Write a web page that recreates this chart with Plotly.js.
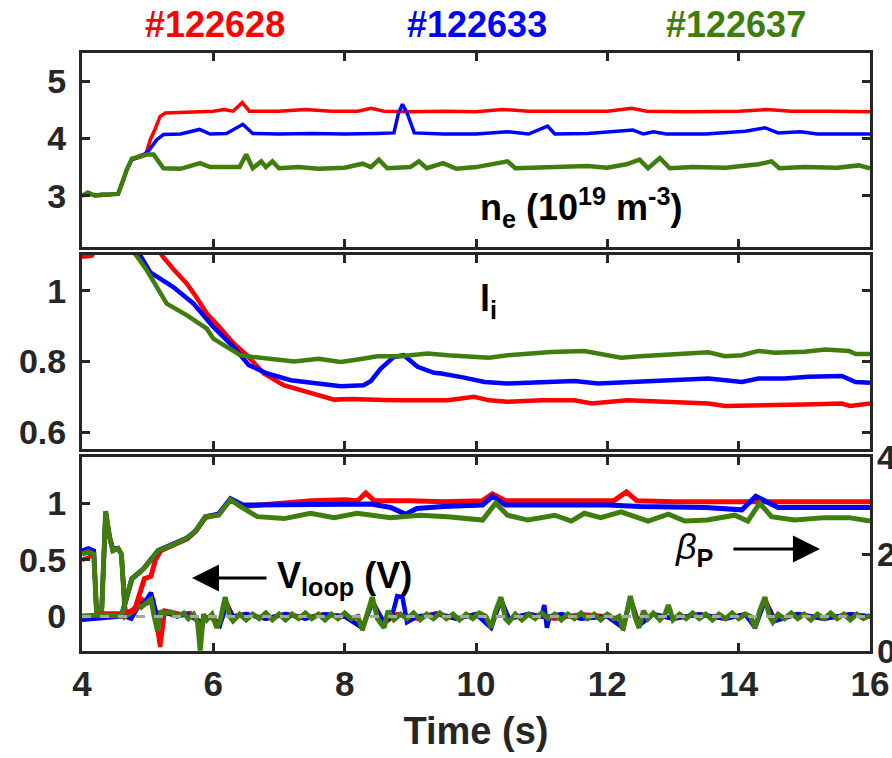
<!DOCTYPE html>
<html>
<head>
<meta charset="utf-8">
<script src="https://cdn.plot.ly/plotly-3.0.1.min.js"></script>
<style>html,body{margin:0;padding:0;background:#fff;}#chart{width:892px;height:758px;}</style>
</head>
<body>
<div id="chart"></div>
<script>
// ---------- DATA ----------
var shotNames = ['#122628', '#122633', '#122637'];
var xTickVals = [4, 6, 8, 10, 12, 14, 16];
var xTickText = ['4', '6', '8', '10', '12', '14', '16'];

// n_e (10^19 m^-3)
var tNeRed = [4.0, 4.09, 4.18, 4.27, 4.42, 4.55, 4.62, 4.68, 4.76, 4.89, 4.97, 5.04, 5.11, 5.19, 5.27, 5.6, 6.0, 6.16, 6.3, 6.44, 6.55, 7.0, 7.4, 7.8, 8.2, 8.4, 8.6, 9.0, 9.5, 10.0, 10.4, 10.8, 11.5, 12.0, 12.37, 12.6, 13.2, 14.0, 14.43, 14.8, 15.4, 16.0];
var neRed  = [2.99, 3.06, 3.01, 3.0, 3.02, 3.03, 3.25, 3.45, 3.63, 3.71, 3.72, 3.98, 4.16, 4.39, 4.45, 4.47, 4.48, 4.51, 4.48, 4.63, 4.48, 4.48, 4.51, 4.48, 4.48, 4.53, 4.48, 4.47, 4.48, 4.47, 4.51, 4.48, 4.48, 4.48, 4.53, 4.48, 4.47, 4.48, 4.51, 4.48, 4.48, 4.47];
var tNeBlue = [4.0, 4.09, 4.2, 4.3, 4.42, 4.55, 4.62, 4.68, 4.76, 4.89, 5.01, 5.14, 5.24, 5.5, 5.79, 5.95, 6.2, 6.45, 6.6, 7.0, 7.5, 8.0, 8.5, 8.75, 8.82, 8.88, 8.95, 9.06, 9.5, 10.0, 10.48, 10.8, 11.09, 11.2, 11.7, 12.39, 12.55, 12.7, 12.9, 13.5, 14.1, 14.4, 14.6, 14.94, 15.2, 15.6, 16.0];
var neBlue  = [3.0, 3.04, 3.0, 3.02, 3.02, 3.03, 3.25, 3.45, 3.63, 3.68, 3.78, 3.98, 4.07, 4.08, 4.16, 4.08, 4.09, 4.25, 4.09, 4.08, 4.09, 4.08, 4.09, 4.1, 4.45, 4.6, 4.45, 4.1, 4.08, 4.08, 4.12, 4.08, 4.22, 4.08, 4.09, 4.15, 4.08, 4.12, 4.08, 4.08, 4.13, 4.19, 4.1, 4.12, 4.08, 4.08, 4.08];
var tNeGreen = [4.0, 4.09, 4.2, 4.3, 4.42, 4.55, 4.62, 4.68, 4.76, 4.9, 4.99, 5.09, 5.17, 5.24, 5.5, 5.8, 5.95, 6.2, 6.4, 6.5, 6.6, 6.73, 6.8, 6.9, 7.0, 7.3, 7.6, 8.0, 8.27, 8.4, 8.52, 8.65, 9.0, 9.13, 9.25, 9.5, 9.7, 10.0, 10.28, 10.48, 10.6, 11.0, 11.7, 12.0, 12.29, 12.49, 12.62, 12.8, 12.95, 13.3, 13.8, 14.3, 14.5, 14.62, 15.0, 15.5, 15.83, 16.0];
var neGreen  = [3.0, 3.05, 3.0, 3.02, 3.02, 3.03, 3.25, 3.45, 3.65, 3.7, 3.72, 3.72, 3.6, 3.48, 3.47, 3.57, 3.5, 3.49, 3.5, 3.72, 3.48, 3.6, 3.5, 3.6, 3.48, 3.5, 3.47, 3.49, 3.56, 3.5, 3.63, 3.48, 3.5, 3.6, 3.48, 3.57, 3.47, 3.5, 3.55, 3.6, 3.48, 3.5, 3.52, 3.49, 3.55, 3.63, 3.48, 3.66, 3.48, 3.5, 3.49, 3.55, 3.6, 3.48, 3.5, 3.49, 3.53, 3.48];

// l_i
var tLiRed = [4.0, 4.15, 4.3, 4.6, 5.0, 5.22, 5.4, 5.6, 5.75, 5.9, 6.07, 6.2, 6.31, 6.51, 6.77, 7.07, 7.43, 7.84, 8.1, 8.35, 8.6, 8.86, 9.2, 9.57, 9.97, 10.2, 10.48, 11.0, 11.5, 11.76, 12.3, 12.9, 13.54, 13.79, 14.2, 14.55, 15.0, 15.57, 15.7, 16.0];
var liRed  = [1.097, 1.1, 1.15, 1.2, 1.18, 1.1, 1.06, 1.02, 0.98, 0.936, 0.903, 0.875, 0.851, 0.818, 0.766, 0.733, 0.714, 0.692, 0.694, 0.694, 0.691, 0.69, 0.691, 0.69, 0.70, 0.69, 0.686, 0.69, 0.69, 0.681, 0.69, 0.687, 0.681, 0.674, 0.677, 0.677, 0.678, 0.681, 0.674, 0.681];
var tLiBlue = [4.0, 4.4, 4.89, 5.04, 5.39, 5.7, 6.0, 6.31, 6.54, 6.82, 7.18, 7.62, 7.94, 8.29, 8.4, 8.55, 8.75, 8.9, 9.11, 9.36, 9.47, 9.8, 10.13, 10.48, 11.0, 11.5, 11.86, 12.3, 12.9, 13.54, 14.05, 14.3, 14.7, 15.06, 15.57, 15.78, 16.0];
var liBlue  = [1.3, 1.2, 1.1, 1.053, 1.011, 0.964, 0.898, 0.841, 0.79, 0.766, 0.747, 0.738, 0.73, 0.733, 0.745, 0.78, 0.813, 0.818, 0.785, 0.768, 0.766, 0.755, 0.742, 0.738, 0.742, 0.745, 0.738, 0.742, 0.745, 0.752, 0.742, 0.752, 0.752, 0.757, 0.759, 0.742, 0.74];
var tLiGreen = [4.0, 4.4, 4.83, 4.99, 5.29, 5.6, 5.9, 6.0, 6.21, 6.41, 6.6, 6.92, 7.23, 7.6, 7.94, 8.2, 8.5, 8.86, 9.26, 9.57, 9.88, 10.2, 10.48, 10.8, 11.14, 11.65, 12.0, 12.21, 12.5, 13.0, 13.54, 13.79, 14.05, 14.3, 14.55, 15.0, 15.32, 15.68, 15.78, 16.0];
var liGreen  = [1.3, 1.2, 1.1, 1.058, 0.964, 0.931, 0.893, 0.865, 0.841, 0.818, 0.813, 0.808, 0.80, 0.808, 0.799, 0.806, 0.815, 0.815, 0.823, 0.818, 0.813, 0.811, 0.818, 0.822, 0.827, 0.83, 0.82, 0.811, 0.815, 0.82, 0.826, 0.815, 0.818, 0.83, 0.825, 0.828, 0.834, 0.83, 0.821, 0.821];

// V_loop (V), left axis
var tVRed = [4.0, 4.1, 4.18, 4.22, 4.3, 4.36, 4.42, 4.47, 4.55, 4.6, 4.66, 4.75, 4.85, 4.92, 5.0, 5.08, 5.19, 5.26, 5.35, 5.5, 5.65, 5.8, 5.95, 6.1, 6.2, 6.3, 6.5, 6.8, 7.1, 7.4, 7.7, 8.0, 8.27, 8.42, 8.6, 8.8, 9.1, 9.4, 9.7, 10.0, 10.23, 10.38, 10.5, 10.8, 11.2, 11.6, 12.0, 12.24, 12.35, 12.48, 12.7, 13.0, 13.4, 13.8, 14.1, 14.25, 14.4, 14.55, 14.9, 15.3, 15.7, 16.0];
var vRed  = [0.5, 0.52, 0.55, 0.06, 0.06, 0.9, 0.7, 0.58, 0.6, 0.55, 0.02, 0.05, 0.1, 0.15, 0.12, 0.16, -0.27, 0.05, 0.04, 0.02, 0.03, -0.05, 0.0, -0.06, 0.12, 0.0, 0.02, -0.02, 0.02, -0.01, 0.02, 0.0, -0.1, 0.14, -0.06, 0.02, -0.02, 0.03, -0.02, 0.02, -0.08, 0.14, -0.02, 0.02, -0.02, 0.02, 0.0, -0.1, 0.16, -0.06, 0.02, -0.02, 0.02, -0.02, 0.02, -0.08, 0.15, -0.03, 0.02, -0.02, 0.02, 0.0];
var tVBlue = [4.0, 4.1, 4.18, 4.22, 4.3, 4.36, 4.42, 4.47, 4.55, 4.6, 4.66, 4.75, 4.85, 4.95, 5.05, 5.12, 5.2, 5.3, 5.45, 5.6, 5.8, 5.95, 6.1, 6.2, 6.3, 6.5, 6.8, 7.1, 7.4, 7.7, 8.0, 8.27, 8.42, 8.6, 8.72, 8.8, 8.88, 8.95, 9.1, 9.4, 9.7, 10.0, 10.23, 10.38, 10.5, 10.8, 11.0, 11.04, 11.08, 11.12, 11.3, 11.6, 12.0, 12.24, 12.35, 12.48, 12.7, 13.0, 13.4, 13.8, 14.1, 14.25, 14.4, 14.55, 14.9, 15.3, 15.7, 16.0];
var vBlue  = [0.58, 0.6, 0.58, 0.05, 0.05, 0.92, 0.7, 0.6, 0.6, 0.55, 0.0, -0.02, 0.08, 0.12, 0.21, 0.05, 0.0, 0.03, 0.0, 0.02, -0.05, 0.0, -0.08, 0.1, 0.0, 0.02, -0.02, 0.02, -0.02, 0.02, 0.0, -0.1, 0.12, -0.05, 0.0, 0.18, 0.17, -0.05, 0.0, 0.02, -0.02, 0.02, -0.1, 0.15, -0.02, 0.02, 0.0, 0.1, -0.1, 0.0, 0.02, -0.02, 0.0, -0.1, 0.15, -0.08, 0.02, -0.02, 0.02, -0.02, 0.02, -0.1, 0.14, -0.04, 0.02, -0.02, 0.02, 0.0];
var tVGreen = [4.0, 4.1, 4.18, 4.22, 4.3, 4.36, 4.42, 4.47, 4.55, 4.6, 4.66, 4.72, 4.8, 4.85, 4.9, 4.98, 5.05, 5.1, 5.15, 5.2, 5.25, 5.35, 5.45, 5.55, 5.62, 5.7, 5.76, 5.8, 5.85, 5.9, 5.98, 6.05, 6.1, 6.18, 6.25, 6.3, 6.4, 6.5, 6.6, 6.7, 6.8, 6.9, 7.0, 7.1, 7.2, 7.3, 7.4, 7.5, 7.6, 7.7, 7.8, 7.9, 8.0, 8.1, 8.2, 8.27, 8.35, 8.42, 8.5, 8.6, 8.66, 8.75, 8.85, 8.95, 9.05, 9.15, 9.25, 9.35, 9.45, 9.55, 9.65, 9.75, 9.85, 9.95, 10.05, 10.15, 10.23, 10.3, 10.38, 10.45, 10.5, 10.6, 10.7, 10.8, 10.9, 11.0, 11.1, 11.2, 11.3, 11.4, 11.5, 11.6, 11.7, 11.8, 11.9, 12.0, 12.1, 12.18, 12.24, 12.3, 12.35, 12.42, 12.48, 12.55, 12.62, 12.7, 12.8, 12.88, 12.93, 13.0, 13.1, 13.2, 13.3, 13.4, 13.5, 13.6, 13.7, 13.8, 13.9, 14.0, 14.1, 14.18, 14.25, 14.32, 14.4, 14.47, 14.52, 14.6, 14.7, 14.8, 14.9, 15.0, 15.1, 15.2, 15.3, 15.4, 15.5, 15.6, 15.7, 15.8, 15.9, 16.0];
var vGreen  = [0.55, 0.57, 0.55, 0.05, 0.05, 0.93, 0.7, 0.58, 0.6, 0.55, 0.0, 0.02, 0.05, 0.1, 0.08, 0.12, 0.15, 0.0, -0.13, 0.05, 0.02, 0.04, 0.0, 0.03, -0.02, 0.02, -0.05, -0.3, 0.02, -0.03, 0.02, -0.1, -0.05, 0.17, 0.0, -0.04, 0.02, -0.03, 0.02, -0.02, 0.03, -0.03, 0.02, -0.03, 0.02, -0.02, 0.03, -0.02, 0.02, -0.03, 0.02, -0.02, 0.03, -0.02, 0.0, -0.12, 0.05, 0.17, -0.02, -0.1, 0.05, -0.03, 0.02, -0.02, 0.03, -0.03, 0.02, -0.02, 0.03, -0.02, 0.02, -0.03, 0.02, -0.02, 0.03, 0.0, -0.1, 0.05, 0.17, -0.02, -0.05, 0.02, -0.03, 0.02, -0.02, 0.03, -0.02, 0.02, -0.03, 0.02, -0.02, 0.03, -0.02, 0.02, -0.03, 0.02, -0.02, 0.0, -0.12, 0.05, 0.18, 0.0, -0.1, 0.05, -0.02, 0.03, -0.03, 0.02, 0.1, -0.03, 0.02, -0.02, 0.03, -0.02, 0.02, -0.03, 0.02, -0.02, 0.03, -0.02, 0.02, 0.0, -0.1, 0.05, 0.17, 0.0, -0.05, 0.02, -0.02, 0.03, -0.02, 0.02, -0.03, 0.02, -0.02, 0.03, -0.02, 0.02, -0.03, 0.02, -0.02, 0.01];

// beta_P, right axis
var tBpRed = [4.0, 4.3, 4.6, 4.8, 4.95, 5.05, 5.12, 5.2, 5.4, 5.6, 5.73, 5.88, 6.08, 6.26, 6.45, 7.0, 7.5, 8.0, 8.2, 8.32, 8.45, 9.0, 9.5, 10.1, 10.25, 10.45, 11.0, 11.5, 12.1, 12.29, 12.45, 13.0, 13.5, 14.0, 14.5, 15.0, 15.5, 16.0];
var bpRed  = [0.65, 0.77, 0.77, 0.84, 1.49, 1.54, 1.89, 2.07, 2.19, 2.31, 2.47, 2.75, 2.82, 3.12, 2.98, 3.05, 3.10, 3.12, 3.10, 3.26, 3.10, 3.10, 3.08, 3.10, 3.24, 3.10, 3.10, 3.10, 3.10, 3.28, 3.10, 3.08, 3.08, 3.08, 3.08, 3.08, 3.08, 3.08];
var tBpBlue = [4.0, 4.3, 4.6, 4.76, 4.94, 5.16, 5.39, 5.6, 5.73, 5.88, 6.08, 6.26, 6.45, 7.0, 7.5, 8.0, 8.4, 8.7, 8.93, 9.1, 9.5, 10.1, 10.25, 10.45, 11.0, 11.5, 12.0, 12.5, 13.0, 13.5, 14.05, 14.26, 14.6, 15.0, 15.5, 16.0];
var bpBlue  = [0.65, 0.68, 0.72, 1.49, 1.70, 2.07, 2.21, 2.33, 2.47, 2.77, 2.82, 3.14, 3.01, 3.01, 3.03, 3.03, 3.03, 2.96, 2.82, 2.94, 2.98, 3.01, 3.19, 3.01, 3.01, 3.01, 3.01, 2.98, 2.96, 2.96, 2.91, 3.19, 2.96, 2.96, 2.98, 2.96];
var tBpGreen = [4.0, 4.3, 4.6, 4.76, 4.94, 5.16, 5.39, 5.6, 5.73, 5.88, 6.08, 6.26, 6.41, 6.67, 7.08, 7.48, 7.84, 8.19, 8.7, 8.9, 9.15, 9.57, 10.1, 10.3, 10.48, 10.79, 11.2, 11.45, 11.65, 11.9, 12.21, 12.62, 12.93, 13.18, 13.52, 13.94, 14.14, 14.32, 14.5, 14.85, 15.32, 15.68, 16.0];
var bpGreen  = [0.72, 0.74, 0.72, 1.49, 1.70, 2.07, 2.19, 2.33, 2.47, 2.77, 2.80, 3.12, 2.98, 2.77, 2.73, 2.84, 2.75, 2.84, 2.75, 2.77, 2.80, 2.77, 2.70, 3.05, 2.80, 2.70, 2.80, 2.68, 2.84, 2.75, 2.87, 2.68, 2.82, 2.68, 2.70, 2.80, 2.68, 3.05, 2.77, 2.70, 2.75, 2.75, 2.68];

// ---------- STYLE ----------
var RED = '#ff0000', BLUE = '#0000ff', GREEN = '#3f7d0c';
var AX = '#262626';
var FONT = 'Liberation Sans, Arial, Helvetica, sans-serif';

function line(x, y, color, w, xa, ya) {
  return {x: x, y: y, type: 'scatter', mode: 'lines', xaxis: xa, yaxis: ya,
          line: {color: color, width: w}, hoverinfo: 'skip', showlegend: false};
}

var data = [
  line(tNeRed, neRed, RED, 3.5, 'x', 'y'),
  line(tNeBlue, neBlue, BLUE, 3.5, 'x', 'y'),
  line(tNeGreen, neGreen, GREEN, 4.5, 'x', 'y'),
  line(tLiRed, liRed, RED, 4.5, 'x2', 'y2'),
  line(tLiBlue, liBlue, BLUE, 4.5, 'x2', 'y2'),
  line(tLiGreen, liGreen, GREEN, 4.5, 'x2', 'y2'),
  line(tVRed, vRed, RED, 4.5, 'x3', 'y3'),
  line(tVBlue, vBlue, BLUE, 4.5, 'x3', 'y3'),
  line(tVGreen, vGreen, GREEN, 5, 'x3', 'y3'),
  line(tBpRed, bpRed, RED, 5, 'x3', 'y4'),
  line(tBpBlue, bpBlue, BLUE, 5, 'x3', 'y4'),
  line(tBpGreen, bpGreen, GREEN, 5, 'x3', 'y4')
];

function xax(anchor, labels) {
  var a = {domain: [0, 1], anchor: anchor, range: [4, 16], tickvals: xTickVals, ticktext: xTickText,
    ticks: 'inside', ticklen: 8, tickwidth: 3, tickcolor: AX, showline: true, linewidth: 3, linecolor: AX,
    mirror: 'ticks', showgrid: false, zeroline: false, showticklabels: labels, automargin: false,
    tickfont: {family: FONT, size: 35, color: AX, weight: 'bold'}};
  if (anchor !== 'y') a.matches = 'x';
  return a;
}
function yax(domain, range, vals, text, mirror) {
  return {domain: domain, range: range, tickvals: vals, ticktext: text,
    ticks: 'inside', ticklen: 8, tickwidth: 3, tickcolor: AX, showline: true, linewidth: 3, linecolor: AX,
    mirror: mirror, showgrid: false, zeroline: false, automargin: false, ticklabelstandoff: 6,
    tickfont: {family: FONT, size: 34, color: AX, weight: 'bold'}};
}

var xa3 = xax('y3', true);
xa3.title = {text: '<b>Time (s)</b>', font: {family: FONT, size: 38, color: AX}, standoff: 16};

var ya4 = yax([0, 0.3244], [0, 4], [0, 2, 4], ['0', '2', '4'], false);
ya4.overlaying = 'y3';
ya4.side = 'right';
ya4.showline = false;

var annFont = {family: FONT, size: 36, color: '#000000'};
function shotLabel(i, x, color) {
  return {text: '<b>' + shotNames[i] + '</b>', xref: 'paper', yref: 'paper', x: x, y: 1.047,
    xanchor: 'center', yanchor: 'middle', showarrow: false,
    font: {family: FONT, size: 36, color: color, weight: 'bold'}};
}
var layout = {
  width: 892, height: 758,
  margin: {l: 82, r: 22, t: 53, b: 107, pad: 0},
  paper_bgcolor: '#ffffff', plot_bgcolor: '#ffffff',
  showlegend: false,
  xaxis: xax('y', false),
  xaxis2: xax('y2', false),
  xaxis3: xa3,
  yaxis: yax([0.6756, 1], [2.1, 5.5], [3, 4, 5], ['3', '4', '5'], 'ticks'),
  yaxis2: yax([0.3378, 0.6622], [0.552, 1.102], [0.6, 0.8, 1], ['0.6', '0.8', '1'], 'ticks'),
  yaxis3: yax([0, 0.3244], [-0.305, 1.407], [0, 0.5, 1], ['0', '0.5', '1'], true),
  yaxis4: ya4,
  shapes: [
    {type: 'line', xref: 'x3 domain', yref: 'y3', x0: 0, x1: 1, y0: 0, y1: 0,
     line: {color: '#a6a6a6', width: 3, dash: 'dash'}, layer: 'above'}
  ],
  annotations: [
    shotLabel(0, 0.169, RED),
    shotLabel(1, 0.501, BLUE),
    shotLabel(2, 0.830, GREEN),
    {text: '<b>n<sub>e</sub> (10<sup>19</sup> m<sup>-3</sup>)</b>', xref: 'paper', yref: 'paper',
     x: 0.5025, y: 0.741, xanchor: 'left', yanchor: 'middle', showarrow: false, font: annFont},
    {text: '<b>l<sub>i</sub></b>', xref: 'paper', yref: 'paper',
     x: 0.5025, y: 0.585, xanchor: 'left', yanchor: 'middle', showarrow: false, font: annFont},
    {text: '<b>V<sub>loop</sub> (V)</b>', xref: 'paper', yref: 'paper',
     x: 0.245, y: 0.122, xanchor: 'left', yanchor: 'middle', showarrow: false, font: annFont},
    {text: '', xref: 'paper', yref: 'paper', x: 0.1396, y: 0.122, ax: 76, ay: 0,
     showarrow: true, arrowhead: 2, arrowsize: 1.8, arrowwidth: 3, arrowcolor: '#000000'},
    {text: '<i>β</i><sub><b>P</b></sub>', xref: 'paper', yref: 'paper',
     x: 0.75, y: 0.17, xanchor: 'left', yanchor: 'middle', showarrow: false, font: annFont},
    {text: '', xref: 'paper', yref: 'paper', x: 0.9365, y: 0.1706, ax: -88, ay: 0,
     showarrow: true, arrowhead: 2, arrowsize: 1.8, arrowwidth: 3, arrowcolor: '#000000'}
  ]
};

Plotly.newPlot('chart', data, layout, {staticPlot: true, displayModeBar: false});
</script>
</body>
</html>
